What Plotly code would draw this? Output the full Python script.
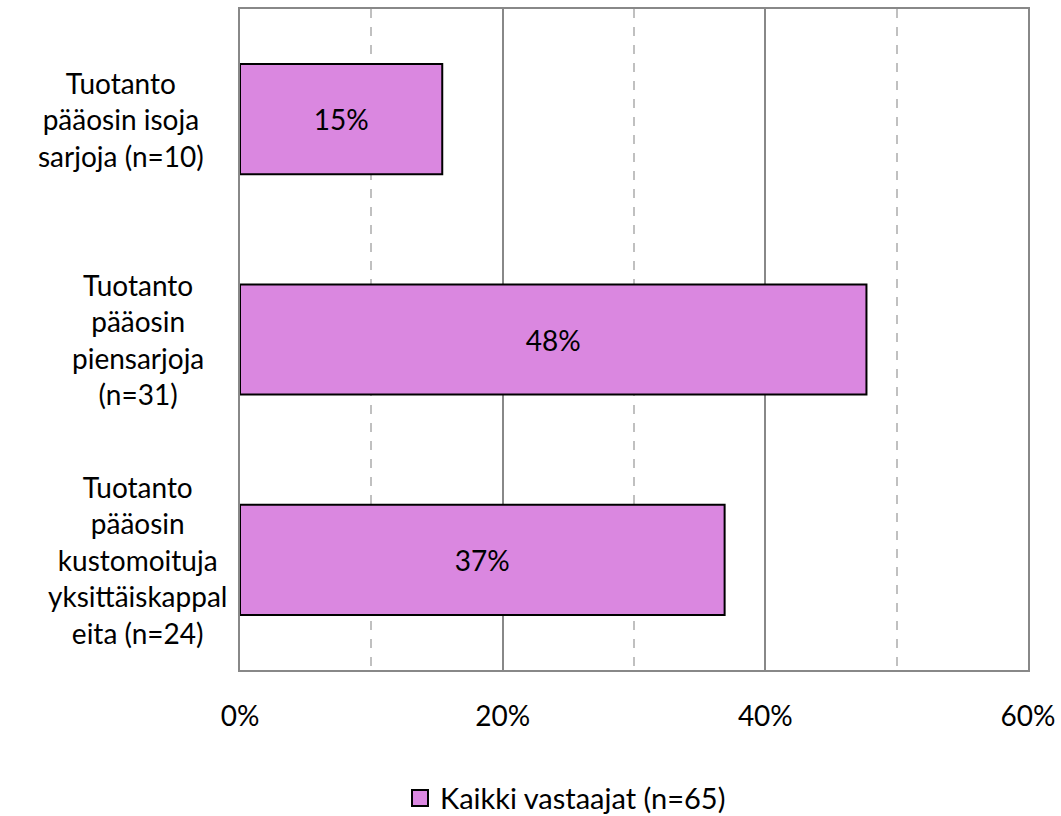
import plotly.graph_objects as go

categories = ["Tuotanto<br>pääosin isoja<br>sarjoja (n=10)",
              "Tuotanto<br>pääosin<br>piensarjoja<br>(n=31)",
              "Tuotanto<br>pääosin<br>kustomoituja<br>yksittäiskappal<br>eita (n=24)"]
values = [15.4, 47.7, 36.9]
series_name = "Kaikki vastaajat (n=65)"
tick_vals = [0, 20, 40, 60]
tick_text = ["0%", "20%", "40%", "60%"]

FONT = "Lato"
FS = 28
BAR_COLOR = "#DA87E0"
cat_ids = [0, 1, 2]
label_center_px = [121, 138, 137]  # horizontal centre of each category label (pixels)

L, R, T, B = 240, 33, 9, 146
W, H = 1061, 816
pw = W - L - R

fig = go.Figure()
fig.add_trace(go.Bar(
    y=cat_ids, x=values, orientation="h", name=series_name,
    width=0.5,
    marker=dict(color=BAR_COLOR, line=dict(color="black", width=2)),
    text=[f"{v:.0f}%" for v in values], textposition="inside",
    insidetextanchor="middle", textangle=0,
    textfont=dict(family=FONT, size=FS, color="black"),
    showlegend=False,
))
# legend entry with a larger square symbol
fig.add_trace(go.Scatter(
    x=[None], y=[None], mode="markers", name=series_name,
    marker=dict(symbol="square", size=19, color=BAR_COLOR, line=dict(color="black", width=2)),
    showlegend=True,
))

for i, c, cx in zip(cat_ids, categories, label_center_px):
    fig.add_annotation(x=(cx - L) / pw, xref="paper", y=i, yref="y", text=c,
                       showarrow=False, xanchor="center", yanchor="middle",
                       align="center", font=dict(family=FONT, size=FS, color="black"))

fig.update_layout(
    width=W, height=H,
    margin=dict(l=L, r=R, t=T, b=B, autoexpand=False),
    plot_bgcolor="white", paper_bgcolor="white",
    font=dict(family=FONT, size=FS, color="black"),
    xaxis=dict(range=[0, 60], tickvals=tick_vals, ticktext=tick_text,
               showgrid=True, gridcolor="#888888", gridwidth=2,
               minor=dict(dtick=10, showgrid=True, gridcolor="#C0C0C0", griddash="dash", gridwidth=2),
               showline=True, linecolor="#888888", linewidth=2, mirror=True,
               zeroline=False, ticks="", ticklabelstandoff=20, automargin=False,
               tickfont=dict(family=FONT, size=FS, color="black")),
    yaxis=dict(range=[2.5, -0.5], showticklabels=False, showgrid=False,
               showline=True, linecolor="#888888", linewidth=2, mirror=True,
               zeroline=False, ticks="", automargin=False),
    legend=dict(orientation="h", x=(400 - L) / pw, xanchor="left", y=-0.194, yanchor="middle",
                font=dict(family=FONT, size=29, color="black")),
)

fig.write_html("out.html")
